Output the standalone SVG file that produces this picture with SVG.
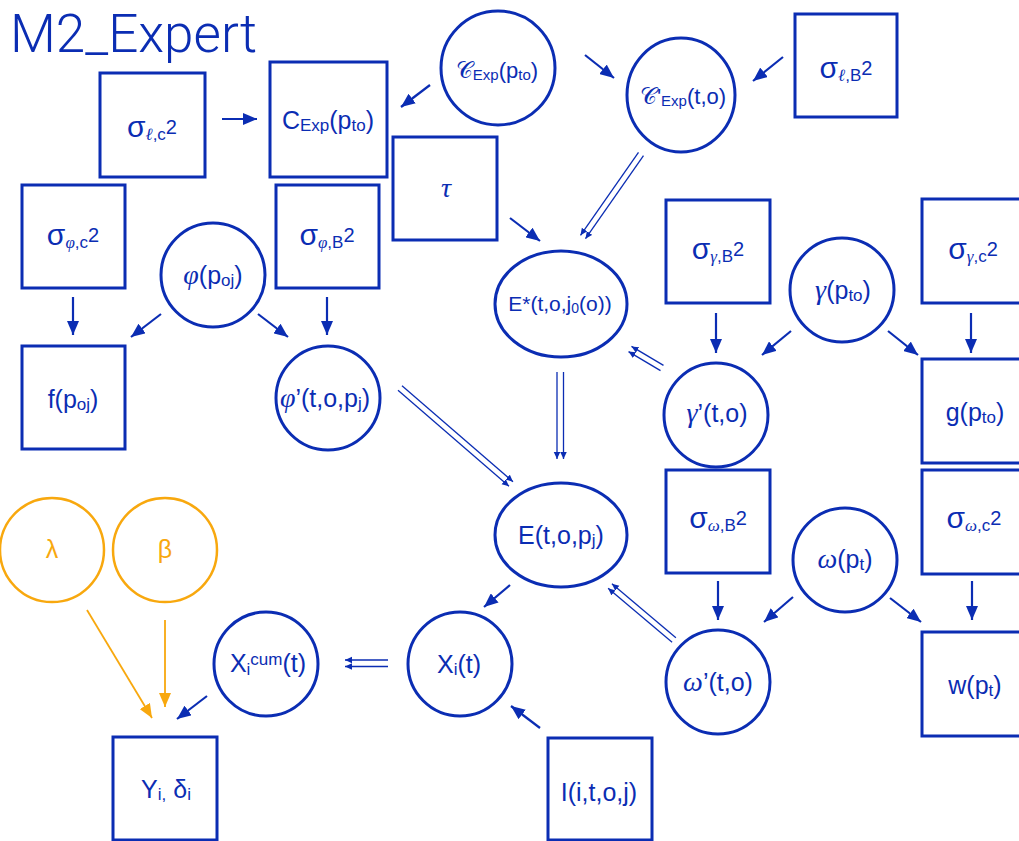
<svg xmlns="http://www.w3.org/2000/svg" width="1019" height="841" viewBox="0 0 1019 841">
  <defs>
    <style>
      .box { fill: none; stroke: #0b2db3; stroke-width: 3; }
      .node { fill: none; stroke: #0b2db3; stroke-width: 3; }
      .prior { fill: none; stroke: #f8a80e; stroke-width: 2.5; }
      .arr { stroke: #0b2db3; stroke-width: 2.2; fill: none; marker-end: url(#head); }
      .arr-o { stroke: #f8a80e; stroke-width: 1.8; fill: none; marker-end: url(#head-o); }
      .dbl { stroke: #0b2db3; stroke-width: 1.3; fill: none; marker-end: url(#head-s); }
      text { font-family: "Liberation Sans", Arial, sans-serif; fill: #0b2db3; text-anchor: middle; font-size: 25px; }
      .title { text-anchor: start; font-size: 53px; font-weight: 300; font-family: Roboto, "Liberation Sans", sans-serif; }
      .o { fill: #f8a80e; }
      .sg { font-size: 30px; }
      .sb { font-size: 17px; }
      .sp { font-size: 20px; }
      .mi { font-family: "Liberation Serif", "DejaVu Serif", serif; font-style: italic; }
      .gk { font-size: 28px; }
      .tau { font-size: 28px; }
      .cal { font-family: "DejaVu Sans", "Noto Sans", sans-serif; font-weight: 300; font-size: 23px; }
      .sm { font-size: 22px; }
      .sms { font-size: 15px; }
      .es { font-size: 21px; }
      .es0 { font-size: 14px; }
    </style>
    <marker id="head" markerUnits="userSpaceOnUse" markerWidth="14" markerHeight="12" refX="14" refY="6" orient="auto">
      <path d="M0,0 L14,6 L0,12 z" fill="#0b2db3"/>
    </marker>
    <marker id="head-o" markerUnits="userSpaceOnUse" markerWidth="14" markerHeight="12" refX="14" refY="6" orient="auto">
      <path d="M0,0 L14,6 L0,12 z" fill="#f8a80e"/>
    </marker>
    <marker id="head-s" markerUnits="userSpaceOnUse" markerWidth="7" markerHeight="7" refX="7" refY="3.25" orient="auto">
      <path d="M0,0 L7,3.25 L0,6.5 z" fill="#0b2db3"/>
    </marker>
  </defs>

  <rect width="1019" height="841" fill="#ffffff"/>

  <text class="title" x="10" y="52">M2_Expert</text>

  <!-- connectors -->
  <g id="connectors">
    <line class="arr" x1="222" y1="119" x2="257" y2="119"/>
    <line class="arr" x1="430" y1="85" x2="401" y2="107"/>
    <line class="arr" x1="585" y1="55" x2="614" y2="78"/>
    <line class="arr" x1="783" y1="57" x2="753" y2="81"/>
    <line class="arr" x1="510" y1="218" x2="540" y2="241"/>
    <line class="arr" x1="73" y1="297" x2="73" y2="335"/>
    <line class="arr" x1="161" y1="314" x2="131" y2="337"/>
    <line class="arr" x1="258" y1="314" x2="288" y2="337"/>
    <line class="arr" x1="327" y1="297" x2="327" y2="335"/>
    <line class="arr" x1="716" y1="313" x2="716" y2="353"/>
    <line class="arr" x1="791" y1="331" x2="762" y2="355"/>
    <line class="arr" x1="888" y1="331" x2="918" y2="355"/>
    <line class="arr" x1="971" y1="313" x2="971" y2="353"/>
    <line class="arr" x1="718" y1="581" x2="718" y2="620"/>
    <line class="arr" x1="793" y1="597" x2="764" y2="622"/>
    <line class="arr" x1="890" y1="598" x2="921" y2="622"/>
    <line class="arr" x1="972" y1="581" x2="972" y2="620"/>
    <line class="arr" x1="510" y1="585" x2="484" y2="607"/>
    <line class="arr" x1="540" y1="728" x2="511" y2="706"/>
    <line class="arr" x1="207" y1="696" x2="177" y2="719"/>
    <line class="arr-o" x1="87" y1="610" x2="152" y2="718"/>
    <line class="arr-o" x1="165" y1="620" x2="165" y2="707"/>

    <!-- deterministic links, drawn as double lines -->
    <line class="dbl" x1="643.5" y1="155.7" x2="585.5" y2="238.7"/>
    <line class="dbl" x1="638.5" y1="152.3" x2="580.5" y2="235.3"/>
    <line class="dbl" x1="557" y1="372" x2="557" y2="459"/>
    <line class="dbl" x1="563.5" y1="372" x2="563.5" y2="459"/>
    <line class="dbl" x1="398" y1="390.3" x2="509" y2="486.3"/>
    <line class="dbl" x1="402" y1="385.7" x2="513" y2="481.7"/>
    <line class="dbl" x1="663.5" y1="365.4" x2="631.5" y2="346.4"/>
    <line class="dbl" x1="660.5" y1="370.6" x2="628.5" y2="351.6"/>
    <line class="dbl" x1="675.9" y1="637.7" x2="611.9" y2="583.7"/>
    <line class="dbl" x1="672.1" y1="642.3" x2="608.1" y2="588.3"/>
    <line class="dbl" x1="388" y1="660" x2="345" y2="660"/>
    <line class="dbl" x1="388" y1="666.5" x2="345" y2="666.5"/>
  </g>

  <g id="sigma-l-c">
    <rect class="box" x="100" y="73" width="105" height="104"/>
    <text x="152" y="137"><tspan class="sg">σ</tspan><tspan class="sb mi" dy="3">ℓ</tspan><tspan class="sb">,c</tspan><tspan class="sp" dy="-6">2</tspan></text>
  </g>
  <g id="c-exp-box">
    <rect class="box" x="270" y="62" width="117" height="115"/>
    <text x="328" y="129">C<tspan class="sb" dy="2">Exp</tspan><tspan dy="-2">(p</tspan><tspan class="sb" dy="2">to</tspan><tspan dy="-2">)</tspan></text>
  </g>
  <g id="c-exp-circle">
    <circle class="node" cx="498" cy="68" r="57"/>
    <text x="497" y="78" class="sm"><tspan class="cal">𝒞</tspan><tspan class="sms" dy="2">Exp</tspan><tspan dy="-2">(p</tspan><tspan class="sms" dy="2">to</tspan><tspan dy="-2">)</tspan></text>
  </g>
  <g id="c-prime">
    <ellipse class="node" cx="681" cy="95" rx="54" ry="57"/>
    <text x="683" y="104" class="sm"><tspan class="cal">𝒞</tspan>'<tspan class="sms" dy="2">Exp</tspan><tspan dy="-2">(t,o)</tspan></text>
  </g>
  <g id="sigma-l-b">
    <rect class="box" x="795" y="14" width="102" height="103"/>
    <text x="846" y="78"><tspan class="sg">σ</tspan><tspan class="sb mi" dy="3">ℓ</tspan><tspan class="sb">,B</tspan><tspan class="sp" dy="-6">2</tspan></text>
  </g>
  <g id="tau">
    <rect class="box" x="393" y="137" width="104" height="103"/>
    <text class="mi tau" x="446" y="197">τ</text>
  </g>
  <g id="sigma-phi-c">
    <rect class="box" x="22" y="185" width="103" height="103"/>
    <text x="73" y="245"><tspan class="sg">σ</tspan><tspan class="sb mi" dy="3">φ</tspan><tspan class="sb">,c</tspan><tspan class="sp" dy="-6">2</tspan></text>
  </g>
  <g id="phi">
    <circle class="node" cx="213" cy="275" r="52"/>
    <text x="213" y="284"><tspan class="mi gk">φ</tspan>(p<tspan class="sb" dy="2">oj</tspan><tspan dy="-2">)</tspan></text>
  </g>
  <g id="sigma-phi-b">
    <rect class="box" x="276" y="185" width="103" height="103"/>
    <text x="327" y="245"><tspan class="sg">σ</tspan><tspan class="sb mi" dy="3">φ</tspan><tspan class="sb">,B</tspan><tspan class="sp" dy="-6">2</tspan></text>
  </g>
  <g id="f">
    <rect class="box" x="22" y="346" width="103" height="103"/>
    <text x="73" y="408">f(p<tspan class="sb" dy="2">oj</tspan><tspan dy="-2">)</tspan></text>
  </g>
  <g id="phi-prime">
    <circle class="node" cx="328" cy="398" r="52"/>
    <text x="325" y="407"><tspan class="mi gk">φ</tspan>’(t,o,p<tspan class="sb" dy="2">j</tspan><tspan dy="-2">)</tspan></text>
  </g>
  <g id="e-star">
    <ellipse class="node" cx="561" cy="304" rx="66" ry="53"/>
    <text class="es" x="560" y="311">E*(t,o,j<tspan class="es0" dy="2">0</tspan><tspan dy="-2">(o))</tspan></text>
  </g>
  <g id="sigma-gamma-b">
    <rect class="box" x="666" y="200" width="104" height="103"/>
    <text x="718" y="259"><tspan class="sg">σ</tspan><tspan class="sb mi" dy="3">γ</tspan><tspan class="sb">,B</tspan><tspan class="sp" dy="-6">2</tspan></text>
  </g>
  <g id="gamma">
    <circle class="node" cx="842" cy="290" r="52"/>
    <text x="843" y="299"><tspan class="mi gk">γ</tspan>(p<tspan class="sb" dy="2">to</tspan><tspan dy="-2">)</tspan></text>
  </g>
  <g id="sigma-gamma-c">
    <rect class="box" x="922" y="199" width="106" height="104"/>
    <text x="973" y="259"><tspan class="sg">σ</tspan><tspan class="sb mi" dy="3">γ</tspan><tspan class="sb">,c</tspan><tspan class="sp" dy="-6">2</tspan></text>
  </g>
  <g id="gamma-prime">
    <circle class="node" cx="716" cy="415" r="52"/>
    <text x="717" y="422"><tspan class="mi gk">γ</tspan>’(t,o)</text>
  </g>
  <g id="g">
    <rect class="box" x="922" y="359" width="106" height="104"/>
    <text x="975" y="421">g(p<tspan class="sb" dy="2">to</tspan><tspan dy="-2">)</tspan></text>
  </g>
  <g id="sigma-omega-b">
    <rect class="box" x="666" y="470" width="104" height="103"/>
    <text x="718" y="528"><tspan class="sg">σ</tspan><tspan class="sb mi" dy="3">ω</tspan><tspan class="sb">,B</tspan><tspan class="sp" dy="-6">2</tspan></text>
  </g>
  <g id="omega">
    <circle class="node" cx="845" cy="560" r="52"/>
    <text x="845" y="568"><tspan class="mi gk">ω</tspan>(p<tspan class="sb" dy="2">t</tspan><tspan dy="-2">)</tspan></text>
  </g>
  <g id="sigma-omega-c">
    <rect class="box" x="922" y="470" width="106" height="104"/>
    <text x="974" y="528"><tspan class="sg">σ</tspan><tspan class="sb mi" dy="3">ω</tspan><tspan class="sb">,c</tspan><tspan class="sp" dy="-6">2</tspan></text>
  </g>
  <g id="omega-prime">
    <circle class="node" cx="718" cy="682" r="52"/>
    <text x="718" y="691"><tspan class="mi gk">ω</tspan>’(t,o)</text>
  </g>
  <g id="w">
    <rect class="box" x="922" y="632" width="106" height="104"/>
    <text x="975" y="694">w(p<tspan class="sb" dy="2">t</tspan><tspan dy="-2">)</tspan></text>
  </g>
  <g id="e">
    <ellipse class="node" cx="561" cy="535" rx="66" ry="52"/>
    <text x="561" y="544">E(t,o,p<tspan class="sb" dy="2">j</tspan><tspan dy="-2">)</tspan></text>
  </g>
  <g id="x">
    <circle class="node" cx="460" cy="664" r="52"/>
    <text x="459" y="673">X<tspan class="sb" dy="2">i</tspan><tspan dy="-2">(t)</tspan></text>
  </g>
  <g id="intervention">
    <rect class="box" x="548" y="738" width="104" height="102"/>
    <text x="599" y="801">I(i,t,o,j)</text>
  </g>
  <g id="x-cum">
    <circle class="node" cx="266" cy="664" r="52"/>
    <text x="268" y="672">X<tspan class="sb" dy="3">i</tspan><tspan class="sb" dy="-10">cum</tspan><tspan dy="7">(t)</tspan></text>
  </g>
  <g id="y">
    <rect class="box" x="113" y="737" width="104" height="103"/>
    <text x="166" y="798">Y<tspan class="sb" dy="2">i,</tspan><tspan dy="-2"> δ</tspan><tspan class="sb" dy="2">i</tspan></text>
  </g>
  <g id="lambda">
    <circle class="prior" cx="52" cy="550" r="52"/>
    <text class="o" x="52" y="558">λ</text>
  </g>
  <g id="beta">
    <circle class="prior" cx="165" cy="550" r="52"/>
    <text class="o" x="165" y="558">β</text>
  </g>
</svg>
